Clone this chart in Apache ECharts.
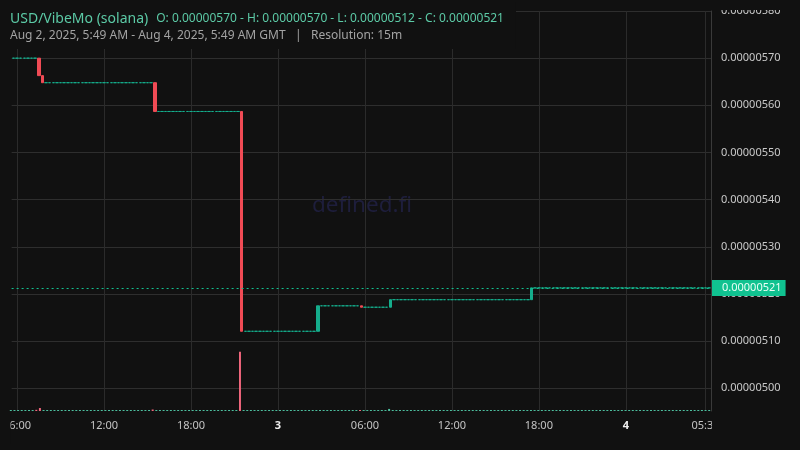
<!DOCTYPE html>
<html><head><meta charset="utf-8">
<script src="https://cdn.jsdelivr.net/npm/echarts@6/dist/echarts.min.js"></script>
<style>html,body{margin:0;padding:0;background:#111111;}#c{width:800px;height:450px;}</style>
</head><body><div id="c"></div>
<script>
// Prices in units of 1e-8 USD; one candle every 15 minutes, first candle at 2025-08-02 05:45 GMT
const pairName = 'USD/VibeMo (solana)';
const rangeText = 'Aug 2, 2025, 5:49 AM - Aug 4, 2025, 5:49 AM GMT   |   Resolution: 15m';
const watermark = 'defined.fi';
const startTimeMs = Date.UTC(2025, 7, 2, 5, 45);

const closes = [
  570,
  570,570,570,570,570,570,566.3,564.8,564.8,564.8,564.8,564.8,564.8,564.8,564.8,564.8,564.8,564.8,564.8,564.8,564.8,564.8,564.8,564.8,
  564.8,564.8,564.8,564.8,564.8,564.8,564.8,564.8,564.8,564.8,564.8,564.8,564.8,564.8,558.7,558.7,558.7,558.7,558.7,558.7,558.7,558.7,558.7,558.7,
  558.7,558.7,558.7,558.7,558.7,558.7,558.7,558.7,558.7,558.7,558.7,558.7,558.7,558.7,512.1,512.1,512.1,512.1,512.1,512.1,512.1,512.1,512.1,512.1,
  512.1,512.1,512.1,512.1,512.1,512.1,512.1,512.1,512.1,512.1,512.1,517.5,517.5,517.5,517.5,517.5,517.5,517.5,517.5,517.5,517.5,517.5,517.5,517.2,
  517.2,517.2,517.2,517.2,517.2,517.2,517.2,518.8,518.8,518.8,518.8,518.8,518.8,518.8,518.8,518.8,518.8,518.8,518.8,518.8,518.8,518.8,518.8,518.8,
  518.8,518.8,518.8,518.8,518.8,518.8,518.8,518.8,518.8,518.8,518.8,518.8,518.8,518.8,518.8,518.8,518.8,518.8,518.8,518.8,518.8,518.8,521.3,521.3,
  521.3,521.3,521.3,521.3,521.3,521.3,521.3,521.3,521.3,521.3,521.3,521.3,521.3,521.3,521.3,521.3,521.3,521.3,521.3,521.3,521.3,521.3,521.3,521.3,
  521.3,521.3,521.3,521.3,521.3,521.3,521.3,521.3,521.3,521.3,521.3,521.3,521.3,521.3,521.3,521.3,521.3,521.3,521.3,521.3,521.3,521.3,521.3,521.3
];
const firstOpen = 570;

const volumes = [
  .3,
  .3,.3,.3,.3,.3,.3,2,5,.3,.3,.3,.3,.3,.3,.3,.3,.3,.3,.3,.3,.3,.3,.3,.3,
  .3,.3,.3,.3,.3,.3,.3,.3,.3,.3,.3,.3,.3,.3,2.5,.3,.3,.3,.3,.3,.3,.3,.3,.3,
  .3,.3,.3,.3,.3,.3,.3,.3,.3,.3,.3,.3,.3,.3,100,.3,.3,.3,.3,.3,.3,.3,.3,.3,
  .3,.3,.3,.3,.3,.3,.3,.3,.3,.3,.3,.8,.3,.3,.3,.3,.3,.3,.3,.3,.3,.3,.3,1,
  .3,.3,.3,.3,.3,.3,.3,3.5,.3,.3,.3,.3,.3,.3,.3,.3,.3,.3,.3,.3,.3,.3,.3,.3,
  .3,.3,.3,.3,.3,.3,.3,.3,.3,.3,.3,.3,.3,.3,.3,.3,.3,.3,.3,.3,.3,.3,.8,.3,
  .3,.3,.3,.3,.3,.3,.3,.3,.3,.3,.3,.3,.3,.3,.3,.3,.3,.3,.3,.3,.3,.3,.3,.3,
  .3,.3,.3,.3,.3,.3,.3,.3,.3,.3,.3,.3,.3,.3,.3,.3,.3,.3,.3,.3,.3,.3,.3,.3
];

const tickIndex = [1, 25, 49, 73, 97, 121, 145, 169, 191];
const tickText = ['06:00', '12:00', '18:00', '3', '06:00', '12:00', '18:00', '4', '05:30'];
const boldTicks = ['3', '4'];

// ---- build ----
const FONT = 'Noto Sans';
const UP = '#15ad8c', DOWN = '#f04b55';
const categories = closes.map((_, i) => {
  const d = new Date(startTimeMs + i * 15 * 60000);
  return d.toISOString().slice(0, 16);
});
const opens = closes.map((c, i) => i === 0 ? firstOpen : closes[i - 1]);
const candleData = closes.map((c, i) => [opens[i], c, Math.min(opens[i], c), Math.max(opens[i], c)]);
const volData = volumes.map((v, i) => ({
  value: v,
  itemStyle: { color: closes[i] < opens[i] ? '#f0667c' : '#4dbf9f' }
}));
const fmt = v => (v / 1e8).toFixed(8);
const O = opens[0], C = closes[closes.length - 1];
const H = Math.max(...candleData.map(d => d[3])), L = Math.min(...candleData.map(d => d[2]));
const ohlcText = 'O: ' + fmt(O) + ' - H: ' + fmt(H) + ' - L: ' + fmt(L) + ' - C: ' + fmt(C);
const tickMap = {};
tickIndex.forEach((ix, k) => tickMap[ix] = tickText[k]);
const showTick = (index) => tickMap[index] !== undefined;

const chart = echarts.init(document.getElementById('c'), null, { renderer: 'canvas' });
chart.setOption({
  animation: false,
  backgroundColor: '#111111',
  textStyle: { fontFamily: FONT },
  title: {
    left: 0, top: 0,
    padding: [10, 12, 5, 10],
    backgroundColor: '#111111',
    itemGap: 4,
    z: 10,
    text: '{a|' + pairName + '}{b|' + ohlcText + '}',
    textStyle: {
      fontWeight: 'normal',
      rich: {
        a: { fontFamily: FONT, fontSize: 14, fontWeight: 'normal', color: '#5ccaa6', lineHeight: 18 },
        b: { fontFamily: FONT, fontSize: 12, fontWeight: 'normal', color: '#5ccaa6', lineHeight: 18, padding: [0, 0, 0, 8] }
      }
    },
    subtext: rangeText,
    subtextStyle: { fontFamily: FONT, fontSize: 12, fontWeight: 'normal', color: '#a3a3a3', lineHeight: 16 }
  },
  graphic: [
    { type: 'text', x: 362, y: 206, z: -1, silent: true,
      style: { text: watermark, fill: '#1e1e3c', font: '22.5px "Noto Sans"', textAlign: 'center', textVerticalAlign: 'middle' } },
    { type: 'rect', shape: { x: 712, y: 0, width: 88, height: 10 }, style: { fill: '#111111' }, z: 100, silent: true },
    { type: 'rect', shape: { x: 0, y: 414, width: 10.5, height: 30 }, style: { fill: '#111111' }, z: 100, silent: true },
    { type: 'rect', shape: { x: 712, y: 414, width: 88, height: 30 }, style: { fill: '#111111' }, z: 100, silent: true }
  ],
  grid: [
    { left: 9, right: 89, top: 11, bottom: 39 },
    { left: 9, right: 89, bottom: 39, height: 80 }
  ],
  xAxis: [
    {
      type: 'category', data: categories, gridIndex: 0, boundaryGap: true,
      axisLine: { show: false }, axisTick: { show: false },
      axisLabel: {
        interval: (index) => showTick(index), margin: 9,
        color: '#c4c4c4', fontSize: 11, fontFamily: FONT,
        formatter: (value, index) => {
          const t = tickMap[index];
          if (t === undefined) return '';
          return boldTicks.includes(t) ? '{bd|' + t + '}' : t;
        },
        rich: { bd: { fontWeight: 'bold', color: '#f0f0f0', fontSize: 11, fontFamily: FONT } }
      },
      splitLine: { show: true, interval: (index) => showTick(index), alignWithLabel: true, lineStyle: { color: '#2b2b2b', width: 1 } }
    },
    { type: 'category', data: categories, gridIndex: 1, boundaryGap: true, show: false }
  ],
  yAxis: [
    {
      type: 'value', gridIndex: 0, position: 'right', min: 495.2, max: 580, splitNumber: 8, scale: true,
      axisLine: { show: true, lineStyle: { color: '#3a3a3a' } },
      axisTick: { show: false },
      axisLabel: { color: '#c9c9c9', fontSize: 11, fontFamily: FONT, margin: 10, showMinLabel: false, formatter: fmt },
      splitLine: { show: true, showMinLine: false, lineStyle: { color: '#2e2e2e', width: 1 } }
    },
    { type: 'value', gridIndex: 1, min: 0, max: 135, show: false, splitLine: { show: false } }
  ],
  series: [
    {
      type: 'candlestick', xAxisIndex: 0, yAxisIndex: 0, data: candleData, barWidth: 3,
      itemStyle: { color: UP, color0: DOWN, borderColor: UP, borderColor0: DOWN, borderWidth: 1 },
      markLine: {
        silent: true, symbol: ['none', 'none'], animation: false,
        data: [{ yAxis: C }],
        lineStyle: { color: '#12c08f', type: [2, 3], width: 1 },
        label: {
          show: true, position: 'end', distance: 1, formatter: () => fmt(C),
          backgroundColor: '#10c290', color: '#eafff6', fontSize: 11, fontFamily: FONT,
          padding: [2, 4, 1, 10], lineHeight: 13
        }
      }
    },
    {
      type: 'bar', xAxisIndex: 1, yAxisIndex: 1, data: volData, barWidth: 2, barMinHeight: 1
    }
  ]
});
</script>
</body></html>
